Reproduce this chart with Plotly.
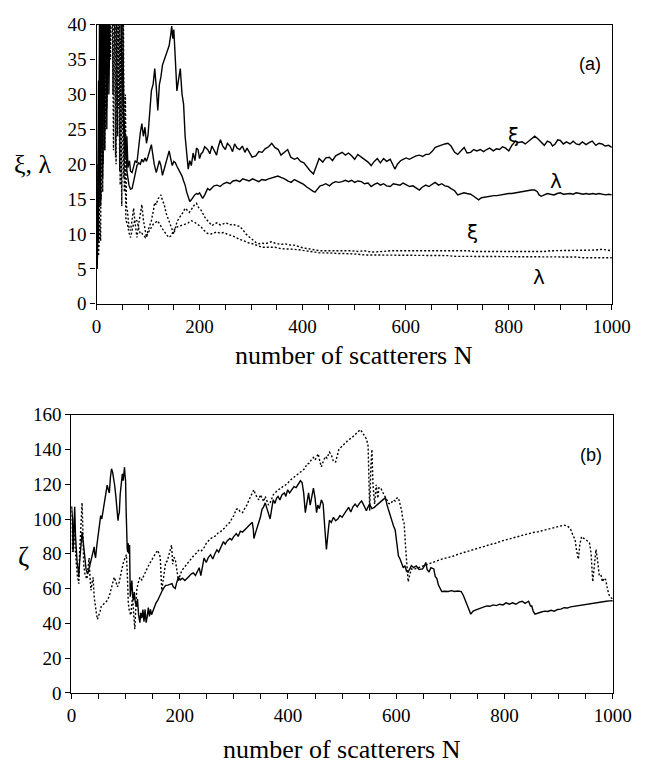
import plotly.graph_objects as go

# ---------------- Panel (a): xi and lambda vs N ----------------
a_xi_solid = [(1,5),(2,9),(4,32),(5,14),(7,52),(9,22),(11,60),(13,28),(15,65),(17,33),(19,62),(21,30),(23,58),(25,38),(27,60),(29,45),(32,60),(36,55),(40,62),(44,56),(48,60),(51,40),(53,27),(55,24),(57,21),(59,24),(61,19.5),(64,20.5),(66,19),(69,18.8),(72,19.8),(75,20.5),(78.5,20.2),(82,23),(85,24.5),(88,25.8),(91,24),(94,25.3),(97,23),(100,24.2),(103,27),(106.5,30.5),(110,31.5),(113,33.7),(116,31),(119,27.7),(122,31.4),(125,32.5),(128,34.2),(131,34.8),(134.6,35.6),(138,36.2),(141,37),(144,38.5),(146,39.8),(148,38),(150,39.3),(153,35),(156,30.5),(159,32),(162.6,33.7),(166,30),(169,28.6),(172,24),(175,21),(178,19.3),(181,20.5),(184,19.8),(187.5,21.6),(191,20.5),(194,22.3),(197,22.1),(200,20.8),(203,21.5),(206,21.7),(210,22.5),(215.6,22.1),(220,21.5),(224,22.6),(228,22.1),(233,21.3),(236,22.4),(240.5,23.5),(245,22.6),(250,22.1),(254,23),(259,22.6),(264,21.8),(268,22.9),(273,22.3),(278,22.1),(283,22.6),(288,21.7),(292,22.3),(296.6,21.7),(302,21),(309,21.2),(315,21.8),(321.5,21.7),(327,22.2),(334,22.5),(340,23),(346,22.4),(352.6,22.1),(358,21.3),(365,21.7),(371,22.1),(377,21),(384,20.7),(390,20.9),(396,20.4),(402.5,20.2),(408,19.6),(414,19.1),(421,18.6),(426,19.5),(432,20.8),(439,20.3),(445,20.9),(452,21),(458,20.5),(464,21.2),(470,21.4),(476.6,21.7),(483,21.3),(489,21.6),(495,21.2),(501,20.7),(507,21.4),(514,21),(520,20.6),(527,20.3),(533,19.8),(539,20.4),(545,20.8),(551,20.2),(557,20.8),(563,20.4),(570,20.7),(575,19.9),(579,19.3),(584,20),(590,20.5),(595,20.7),(601,20.9),(607,20.7),(614,21),(620,21.2),(627,21.3),(633,21.1),(639,21.4),(645,21.4),(651,21.8),(657.5,22.4),(664,22.6),(670,22.8),(676,22.9),(682,23),(688,22.6),(695,21.7),(701,21.4),(707,21.9),(713.5,22.4),(719,21.6),(726,21.7),(732,22.1),(738,21.9),(745,22.1),(751,21.8),(757,22.1),(763,22.3),(770,21.9),(776,22.2),(782,22.1),(788,22.5),(794,22.3),(800,21.9),(806,22.7),(813,23.3),(819,23.1),(826,23.2),(832,22.9),(838,23.3),(845,23.7),(850.5,24),(857,23.6),(863,23.2),(869,22.7),(875,23.3),(881,23.1),(885,22.6),(890,22.9),(895,23.5),(900,23.4),(906,22.9),(912,23.2),(919,22.9),(925,23.3),(931,22.9),(937,22.8),(943,23.2),(950,22.8),(956,23.1),(962,23.3),(969,22.7),(975,23),(981,22.9),(987,22.6),(994,22.7),(1000,22.4)]

a_lambda_solid = [(1,5),(2,7),(3,20),(4,9),(6,45),(8,14),(10,50),(12,18),(14,55),(16,22),(18,60),(20,25),(22,50),(24,30),(26,55),(28,45),(30,60),(34,50),(38,55),(42,45),(46,48),(49,35),(51,28),(53,25),(55,22),(57,24),(59,19),(61,18),(63,17),(66,16.4),(69,16.5),(72,17.5),(75,18.8),(78.5,19.8),(82,20.2),(85,20),(88,20.7),(91,20.3),(94,20.9),(97,20.4),(100,21.1),(103,22),(106.5,22.8),(109,21.5),(112,20),(116,18.8),(119,19.5),(122,20.5),(125,19.8),(128,18.4),(131,19.2),(135,20.3),(138,21.2),(141,21.9),(144,20.8),(147,19.8),(150,20.4),(153,20.2),(156,19.7),(159,19.3),(162.6,18.8),(166,18.3),(169,17.6),(172,17),(175,16),(178,15.3),(181,14.65),(184,14.9),(187,15.3),(190.6,15.6),(194,15.8),(197,15.7),(200,15.9),(203,15.4),(206,15.1),(210,15.6),(215.6,16.5),(220,16.3),(224,16.6),(228,16.9),(234,17),(240,16.8),(246,17.2),(253,17.4),(259,17.2),(265,17.6),(271.6,17.7),(278,17.5),(284,17.9),(290,17.8),(296,17.6),(303,17.9),(309,17.7),(315,17.5),(321,17.8),(327.7,17.7),(334,17.9),(340,18),(346,18.1),(352,18.3),(358,18.1),(365,17.9),(371,17.6),(377.6,17.4),(384,17.8),(390,17.6),(396,17.3),(402,17.1),(408.7,16.7),(414,16.4),(420.6,16.1),(424,16),(429,16.5),(434,16.9),(439,17),(445,17.2),(452,16.9),(458,17.3),(464,17.5),(470,17.4),(476.6,17.5),(483,17.7),(489,17.5),(495,17.7),(501,17.4),(507,17.6),(514,17.5),(520,17.2),(527,17.3),(533,16.8),(539,17.1),(545,17.3),(551,17),(557,17.2),(563,16.9),(570,16.8),(576,17.2),(582,17.1),(589,17),(595,17.3),(601,17.1),(607.6,16.8),(614,16.9),(620,16.6),(626.6,16.3),(632,16.7),(639,17),(645,16.8),(651,17.1),(657,17.4),(664,17),(670,17.2),(676,16.9),(682,16.8),(688,16.5),(695,16.2),(701,15.6),(707,15.7),(713,15.9),(719,15.8),(726,15.7),(732,15.4),(737,15.1),(741.6,14.9),(747,15.2),(753,15.3),(759,15.4),(765,15.4),(771,15.5),(777,15.5),(783,15.6),(789,15.6),(794,15.7),(800,15.8),(806,15.8),(813,15.9),(819,16),(825,16),(832,16.1),(838,16.2),(844,16.3),(850,16.3),(855,16.1),(859,15.6),(863,15.4),(869,15.6),(875,15.8),(881,15.7),(888,15.6),(894,15.8),(900,15.9),(906,15.7),(913,15.8),(919,15.8),(925,15.7),(931,15.9),(938,15.8),(944,15.7),(950,15.8),(956,15.7),(963,15.8),(969,15.7),(975,15.8),(981,15.7),(988,15.6),(994,15.7),(1000,15.6)]

a_xi_dotted = [(3,7),(5,10),(7,18),(9,15),(11,45),(13,20),(15,50),(17,25),(19,55),(21,30),(24,60),(27,35),(30,50),(33,22),(36,45),(38,20),(40,55),(42,28),(44,45),(46,17),(48,40),(50,25),(52,45),(54,16),(56,30),(58,14),(60,13.3),(63,11),(66,10.5),(69,12),(72,13.7),(75,11.5),(78.5,9.5),(82,11.5),(85,13),(88,14.2),(91,12),(94,10.5),(97,9.5),(100,10.5),(103,11.2),(106.5,11.9),(110,13.2),(113,14.5),(116,14.2),(119,15),(122,15.3),(125,15.6),(128,14.8),(131.5,14.2),(135,13),(138,12.3),(141,11.9),(145,11),(150,10),(153,10.8),(156,11.7),(159.5,12.2),(163,12.5),(167,13),(172,13.7),(176,13.4),(180,13.1),(184,13.5),(188,14),(191,14.3),(194,14.4),(198,13.8),(203,13.4),(207,12.8),(211,12.3),(215.6,11.9),(220,11.6),(224,11.2),(228,11.4),(234,11.6),(240,11.3),(246.7,11.5),(252,11.6),(258,11.3),(265.4,11.4),(271,11.2),(278,11.1),(284,10.6),(290,10),(296,9.6),(303,9.1),(309,8.8),(315,8.6),(321,8.7),(327.7,8.6),(334,8.8),(340,8.9),(346,8.7),(352,8.6),(358,8.5),(365,8.6),(371,8.5),(377,8.4),(384,8.4),(390,8.2),(396,8.1),(402,8),(408.7,7.9),(414,7.8),(420,7.7),(433,7.6),(446,7.6),(458,7.6),(470,7.7),(483,7.7),(495,7.6),(507,7.5),(520,7.6),(533,7.4),(545,7.5),(557,7.5),(570,7.6),(582,7.6),(595,7.7),(607,7.6),(620,7.7),(632,7.6),(645,7.7),(657,7.7),(670,7.7),(682,7.6),(695,7.7),(707,7.7),(720,7.6),(732,7.5),(745,7.5),(757,7.5),(770,7.4),(782,7.5),(794,7.4),(806,7.5),(819,7.5),(831,7.5),(844,7.4),(856,7.5),(869,7.5),(881,7.6),(894,7.6),(906,7.6),(919,7.7),(931,7.6),(944,7.7),(956,7.7),(969,7.7),(981,7.8),(994,7.7),(1000,7.6)]

a_lambda_dotted = [(4,7),(6,12),(8,9),(10,40),(12,16),(14,48),(16,22),(18,52),(20,28),(23,58),(26,40),(29,55),(32,30),(35,50),(37,21),(39,42),(41,24),(43,50),(45,19),(47,38),(49,14),(51,36),(53,18),(55,25),(57,12),(60,11.4),(63,10.2),(66,9.5),(69,10.5),(72,11.5),(75,12),(78.5,11.9),(82,10.8),(85,10),(88,10.1),(92,9.7),(95,9.5),(99,10),(102,10.4),(106,10.9),(110,11.4),(114,11.6),(118,11.9),(122,11.5),(125,11.1),(130,10.5),(135,10),(140,9.5),(144,9.7),(147,10.2),(150,10.5),(153,10.8),(156,11),(160,11.1),(165,11.2),(172,11.4),(178,11.6),(184,11.9),(190,11.7),(196,11.4),(203,11),(209,10.5),(215,10.1),(222,10),(228,10.2),(234,10.3),(240,10.1),(246,10.2),(253,10),(259,9.9),(265,9.7),(271,9.5),(278,9.2),(284,9.1),(290,8.9),(296,8.7),(303,8.6),(309,8.4),(315,8.2),(321,8.1),(334,8.1),(346,8.1),(358,7.9),(371,7.9),(384,7.8),(396,7.7),(408,7.6),(420,7.4),(433,7.3),(446,7.3),(458,7.2),(470,7.2),(483,7.2),(495,7.1),(507,7.1),(520,7.0),(533,7.0),(545,7.0),(557,7.0),(570,7.0),(582,6.9),(595,7.0),(607,6.9),(620,6.9),(632,7.0),(645,6.9),(657,6.9),(670,6.9),(682,6.9),(695,6.8),(707,6.8),(720,6.8),(732,6.8),(745,6.8),(757,6.8),(770,6.8),(782,6.8),(794,6.8),(806,6.8),(819,6.8),(831,6.8),(844,6.7),(856,6.7),(869,6.7),(881,6.7),(894,6.7),(906,6.7),(919,6.7),(931,6.7),(944,6.6),(956,6.6),(969,6.6),(981,6.6),(994,6.6),(1000,6.6)]

# ---------------- Panel (b): zeta vs N ----------------
b_zeta_solid = [(0,107.4),(1,104),(2,100),(3,81),(5,95),(6,107),(7.5,90),(9,81),(10.7,74),(12,72),(13.6,66.5),(15,75),(16.6,81),(18,88),(19.6,92.5),(21,89),(22.5,85),(24,80),(25.5,74),(27,71),(30,68.3),(32,72),(34.4,74),(36,76),(38.6,79.5),(40,82),(42,84),(43,80),(44.5,77.6),(47,85),(49,90.7),(51,96),(54,101.9),(56,100),(58,103.7),(60,108),(62,111),(64,116),(66,119.5),(68,117),(70,115),(72,124),(74,128.9),(76,127),(77.7,124),(80,119),(82,113),(84,106),(86,99),(87,102),(88.4,103.7),(90,114),(92,122),(94,126),(95.5,122),(97,128),(98,129.8),(99,125),(100,122),(101,105),(101.5,88.8),(103,83),(103.9,81),(105,86),(106,80),(107.4,85),(108,70),(108.6,55.3),(110,60),(111.6,64.6),(113,56),(114.5,53.4),(116,58),(118,52),(120.5,49.7),(122,54),(124,45),(126.4,40.4),(128,46),(130,43),(132,47.9),(134,41),(136,48),(138,40.4),(140,44),(142,49),(144,44),(146,48),(148,45),(150,47),(153,49),(156,51.6),(159,53),(162,55.3),(165,57),(168,59),(171,60.5),(174,61.8),(178,62),(182,62.5),(185.8,62.8),(188,61),(191.7,60),(194,63),(197.6,66.5),(201,65),(205,66),(209.5,64.6),(213,66),(217,67),(221,68.3),(225,69),(229,67.5),(233,70.2),(236,72),(239,67.4),(242,72),(245,77.6),(249,75),(253,78),(257,79.5),(261,77),(265,80),(268.8,82.3),(272,81),(276,84),(280.7,87),(284,85.5),(288,87.5),(292.6,88.8),(296,88),(300,90),(304.5,91.6),(308,90),(312,93),(316,92.5),(320,94),(324,95),(328,96.3),(331,97),(334,98.1),(336,94),(337,88.8),(340,92),(343,95),(346,98),(349,101),(352,105.6),(355,107),(358,109.3),(361,106),(364,103),(367,100),(370,106),(372.7,111),(376,109),(379,112),(381.6,113),(385,111),(389,114),(393.5,115),(396,113),(399.4,116.8),(403,115),(407,117),(411,118.6),(415,118),(419,120),(423,122),(426,121),(429,115),(432,103.7),(435,110),(438,115),(441,108),(444,112),(447,117.7),(450,112),(452.8,103.7),(455,108),(458,106),(461.7,111),(465,108.6),(468,95),(471,82.5),(474,92),(476.5,99.3),(480,98),(484,101),(488,99),(492,100),(496,102),(500,101),(504,103),(508,105),(512,106.7),(516,104),(520,107),(524,108.6),(528,107),(532,109),(536,110.4),(540,108),(544.8,104.8),(548,107),(550.7,108.6),(555,106),(559.6,106.7),(564,108),(568,109),(571.5,110.4),(576,111),(580,112.3),(583,108),(586,104.8),(589,101),(592,99.3),(595,96),(598,93.7),(601,86),(604,78.8),(607,77),(610,75),(613,72),(616,73.2),(619,70),(622,69.5),(625,71),(628,73.2),(632,72),(637,73),(642,71),(648.7,71.3),(652,73),(654.6,75),(657,71),(660.5,69.5),(664,72),(669.4,71.3),(672,67),(675,65.7),(678,62),(681,60),(684,58.3),(690,58.5),(696,58.3),(702,58.8),(708,58.3),(714,58.6),(720,58.3),(724,56),(728.8,52.7),(733,49),(737.7,45.3),(742,47),(749.6,48),(755,48.6),(761,49.3),(767.4,50),(773,49.8),(779,50.6),(785,50.2),(791,51),(797,50.6),(803,51.8),(809,51),(815,51.8),(821,51),(827,52.2),(832.6,52.7),(838,51.5),(844.5,52.7),(848,50),(850.4,50),(853,47),(856.3,45.3),(862,46),(868,46.5),(874,47),(880,46.8),(886,47.5),(892,47),(898,48),(904,48.2),(910,49),(916,48.8),(922,49.5),(927.8,49.8),(934,50),(940,50.3),(945.6,50.8),(952,51),(958,51.2),(964,51.5),(969.3,51.8),(976,52),(982,52.4),(988,52.7),(994,52.9),(1000,53)]

b_zeta_dotted = [(0,107),(2,81),(4,96),(6,85),(9,74),(11,67),(13.6,62.8),(15,80),(17,92),(18.5,105),(19.6,109.3),(21,95),(22.5,74),(25,68),(28.5,65.5),(30,70),(32.6,77.6),(34,68),(36,59),(38,63),(40,66.5),(42,55),(44.5,47.9),(46,46),(48,42.3),(50,44),(53,47),(55,49.7),(59,51),(63,52),(67,53.4),(71,57),(75,62),(79,66.5),(82,64),(85,61),(88,63.5),(90.8,68.3),(93,71),(96.7,75.8),(99,78),(101.5,79.5),(103,70),(105,51.6),(107,47),(109.8,44.7),(111,50),(113,55.3),(115,45),(117,36.7),(119,50),(120.5,59),(123,63),(126.4,66.5),(130,65),(134,68),(138,71),(142,73),(147,75.8),(151,78),(156,80.4),(159,82),(162,80),(164,78),(166.8,59),(169,65),(171,70),(174,75),(176.9,75.8),(180,79),(182.8,81.4),(185,85),(187,74),(189,78),(191.7,77),(194,72),(197.6,64.6),(200,67),(203.6,70.2),(208,72),(213,74),(217,76),(221,77.6),(226,79),(231,80.5),(235,82),(239,81.4),(244,83),(249,86),(253,87.5),(257,88.8),(262,89.5),(267,90.5),(271,92),(274.8,92.5),(279,94),(284,95),(288,97),(292.6,98),(296,100),(300,102),(304.5,105.6),(308,106),(312,104),(316,103.7),(320,106),(324,108),(328,111),(332,114),(337,116.8),(340,114),(343,112),(346,111),(349,114),(352,112),(355,110),(358,113),(361,111),(364,108),(367,109.3),(370,112),(373,114),(375.7,115),(379,116),(383,117),(387.5,117.5),(391,119),(395,119.5),(399.4,120.5),(403,122),(407,123),(411,124),(415,125),(419,126),(423,127),(427,128),(431,129),(435,131.7),(439,132),(443,134),(447,135.4),(450,134),(453,136),(455.8,137.5),(459,133),(461.7,130),(465,133),(469,136),(472,135),(476.5,138.4),(480,137),(484,133),(488,132.8),(491,137),(494,140),(497,141),(500,142),(503,143),(506,144),(510,145),(514,146),(518,146.7),(522,148),(526,149.3),(530,150),(533.5,151.4),(537,150),(540,148.5),(542.4,147.7),(545,146),(548,142),(550,120),(551,104.8),(553,130),(555,140),(557,120),(560,108.6),(563,119.7),(566,112),(568,118),(571.5,117.9),(574,116),(577.4,114),(580,112),(583,110.4),(586,109),(589,108.6),(592,110),(595,111),(598,110.4),(601,112),(604,112.3),(607,109),(610,104.8),(612,100),(614.6,97.4),(617,85),(619,75),(620.5,66),(622,63.9),(625,68),(628,71.3),(632,71),(637,71.5),(644,72),(651.6,73.2),(658,74),(666,75),(675,76),(684,76.9),(694,77.8),(704,78.5),(713.7,79.7),(723,80.5),(733,81.5),(743,82.5),(753,83.5),(763,84.3),(773,85.3),(783,86),(793,87.2),(803,88.1),(813,89),(823,90),(832.6,90.9),(842,91.5),(852,92.2),(862,92.7),(874,93.6),(886,94.6),(898,95.5),(910,96.5),(916,96),(921.6,94.5),(926,91),(930.5,88),(933,82),(936.5,76.9),(939,85),(942.4,89.9),(946,89),(951.3,88),(955,87),(957.2,86),(960,80),(963,63.9),(966,72),(969,82.5),(972,76),(975,67.6),(978,68),(981,63.9),(984,66),(987,65),(990,60),(993,56.4),(996,55),(999,54.2),(1000,54)]

x_tick_vals = [0, 200, 400, 600, 800, 1000]
x_title = "number of scatterers N"

W, H = 652, 772
SERIF = "Times New Roman, Liberation Serif, serif"
SANS = "Liberation Sans, Arial, sans-serif"


def px_x(p):
    return p / W


def px_y(p):
    return 1 - p / H


fig = go.Figure()


def add(series, dotted, xa, ya):
    fig.add_trace(go.Scatter(
        x=[p[0] for p in series], y=[p[1] for p in series],
        mode="lines", xaxis=xa, yaxis=ya, showlegend=False,
        line=dict(color="black", width=1.4, dash="2px,2px" if dotted else "solid"),
        hoverinfo="skip"))


add(a_xi_dotted, True, "x", "y")
add(a_lambda_dotted, True, "x", "y")
add(a_xi_solid, False, "x", "y")
add(a_lambda_solid, False, "x", "y")
add(b_zeta_dotted, True, "x2", "y2")
add(b_zeta_solid, False, "x2", "y2")

fig.update_layout(
    width=W, height=H, margin=dict(l=0, r=0, t=0, b=0),
    paper_bgcolor="white", plot_bgcolor="white",
    font=dict(family=SERIF, color="black", size=19),
    xaxis=dict(domain=[px_x(95), px_x(630)], anchor="y"),
    yaxis=dict(domain=[px_y(302), px_y(15)], range=[0, 40], dtick=5, anchor="x"),
    xaxis2=dict(domain=[px_x(69), px_x(631)], anchor="y2"),
    yaxis2=dict(domain=[px_y(702), px_y(416)], range=[0, 160], dtick=20, anchor="x2"),
)

common = dict(showline=True, linecolor="black", linewidth=1.2, mirror=True,
              showgrid=False, zeroline=False, ticks="outside", ticklen=5,
              tickwidth=1, tickcolor="black",
              tickfont=dict(family=SERIF, size=19, color="black"))
fig.update_xaxes(**common)
fig.update_yaxes(**common)
fig.update_xaxes(range=[0, 1000], tickvals=x_tick_vals,
                 minor=dict(dtick=50, ticks="outside", ticklen=5, tickcolor="black", showgrid=False))

ann = []


def text(s, x, y, size, family=SERIF):
    ann.append(dict(text=s, x=px_x(x), y=px_y(y), xref="paper", yref="paper",
                    xanchor="center", yanchor="middle", showarrow=False,
                    font=dict(family=family, size=size, color="black")))


text(x_title, 362, 355, 26)
text(x_title, 350, 760, 26)
text("ξ, λ", 29, 159, 26)
text("ζ", 19, 562, 27)
text("(a)", 607, 55, 18, SANS)
text("(b)", 608, 457, 18, SANS)
text("ξ", 528, 128, 20, "DejaVu Sans")
text("λ", 572, 176, 20, "DejaVu Sans")
text("ξ", 485, 228, 20, "DejaVu Sans")
text("λ", 554, 274, 20, "DejaVu Sans")
fig.update_layout(annotations=ann)

fig.write_html("out.html")
